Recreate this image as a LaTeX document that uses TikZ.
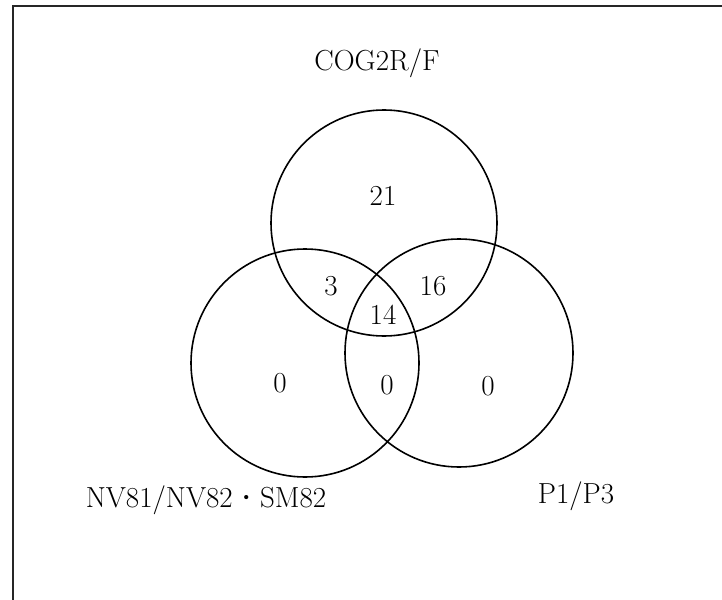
\documentclass[tikz,border=0pt]{standalone}
\usepackage{fontspec}
\newcommand{\vennfont}{\fontsize{29}{33}\selectfont\addfontfeature{FakeBold=0.6}}
\begin{document}
\begin{tikzpicture}[x=1pt,y=-1pt,
  ring/.style={draw=black,line width=1.6pt},
  lbl/.style={font=\vennfont,inner sep=0pt,anchor=center},
  frame/.style={draw=black!85,line width=2pt}]
\useasboundingbox (0,0) rectangle (722,599);
% open frame: left and top edges only
\coordinate (fb) at (12.5,605);
\coordinate (fc) at (12.5,6);
\coordinate (fr) at (730,6);
\draw[frame] (fb) -- (fc) -- (fr);
% three sets
\node[ring,circle,minimum size=226pt,inner sep=0pt] (cog) at (384,223) {};
\node[ring,circle,minimum size=228pt,inner sep=0pt] (nv) at (305,363) {};
\node[ring,circle,minimum size=228pt,inner sep=0pt] (pp) at (459,353) {};
% set names
\node[lbl] (tcog) at (377,63) {COG2R/F};
\node[lbl] (tnv) at (206,500) {NV81/NV82\kern1pt{\bfseries\textperiodcentered}\kern1pt SM82};
\node[lbl] (tpp) at (576,496) {P1/P3};
% region counts
\node[lbl] (n21) at (383,196) {21};
\node[lbl] (n3) at (331,286) {3};
\node[lbl] (n16) at (433,286) {16};
\node[lbl] (n14) at (383,315) {14};
\node[lbl] (n0a) at (280,383) {0};
\node[lbl] (n0b) at (387,385) {0};
\node[lbl] (n0c) at (488,386) {0};
\end{tikzpicture}
\end{document}
